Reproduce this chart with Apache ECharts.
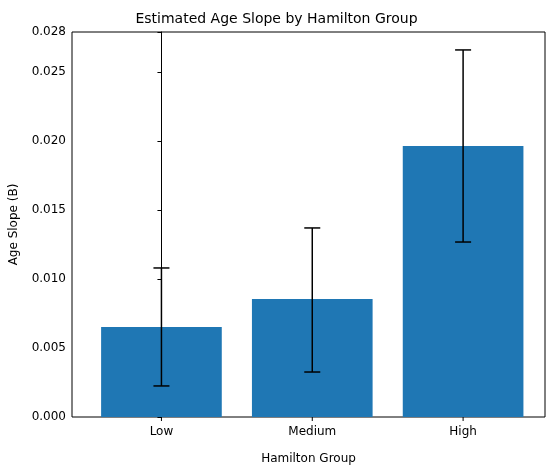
<!DOCTYPE html>
<html><head><meta charset="utf-8">
<script src="https://cdn.jsdelivr.net/npm/echarts@6/dist/echarts.min.js"></script>
<style>html,body{margin:0;padding:0;background:#fff}#c{width:553px;height:470px}</style>
</head><body><div id="c"></div>
<script>
const categories = ['Low', 'Medium', 'High'];
const slopes = [0.00652, 0.00855, 0.01964];
const errLow = [0.00225, 0.00326, 0.01268];
const errHigh = [0.0108, 0.0137, 0.0266];

const chart = echarts.init(document.getElementById('c'));
const font = 'DejaVu Sans';
chart.setOption({
  animation: false,
  title: {text: 'Estimated Age Slope by Hamilton Group', left: 'center', top: 7,
    textStyle: {fontFamily: font, fontSize: 14, fontWeight: 'normal', color: '#000'}},
  grid: {left: 71, right: 8, top: 32, bottom: 53, show: true, borderColor: '#000', borderWidth: 1},
  xAxis: {type: 'value', min: -0.593, max: 2.543, axisLabel: {show: false}, axisTick: {show: false},
    splitLine: {show: false}, axisLine: {show: false},
    name: 'Hamilton Group', nameLocation: 'middle', nameGap: 36,
    nameTextStyle: {fontFamily: font, fontSize: 12, color: '#000'}},
  yAxis: {type: 'value', min: 0, max: 0.0279, interval: 0.005,
    axisLine: {show: true, lineStyle: {color: '#000'}},
    axisTick: {show: true, length: 4, lineStyle: {color: '#000'}},
    splitLine: {show: false},
    axisLabel: {formatter: v => v.toFixed(3), fontFamily: font, fontSize: 12, color: '#000', margin: 6},
    name: 'Age Slope (B)', nameLocation: 'middle', nameGap: 52,
    nameTextStyle: {fontFamily: font, fontSize: 12, color: '#000'}},
  series: [{
    type: 'custom',
    data: slopes.map((v, i) => [i, v, errLow[i], errHigh[i]]),
    renderItem: function (params, api) {
      const i = api.value(0);
      const top = api.coord([i, api.value(1)]);
      const base = api.coord([i, 0]);
      const lo = api.coord([i, api.value(2)]);
      const hi = api.coord([i, api.value(3)]);
      const unit = api.size([1, 0])[0];
      const w = unit * 0.8;
      const cx = top[0];
      return {type: 'group', children: [
        {type: 'rect', shape: {x: cx - w / 2, y: top[1], width: w, height: base[1] - top[1]},
          style: {fill: '#1f77b4'}},
        {type: 'line', shape: {x1: cx, y1: lo[1], x2: cx, y2: hi[1]}, style: {stroke: '#000', lineWidth: 1.5}},
        {type: 'line', shape: {x1: cx - 8, y1: lo[1], x2: cx + 8, y2: lo[1]}, style: {stroke: '#000', lineWidth: 1.5}},
        {type: 'line', shape: {x1: cx - 8, y1: hi[1], x2: cx + 8, y2: hi[1]}, style: {stroke: '#000', lineWidth: 1.5}},
        {type: 'line', shape: {x1: cx, y1: base[1], x2: cx, y2: base[1] + 4}, style: {stroke: '#000', lineWidth: 1}},
        {type: 'text', style: {text: categories[i], x: cx, y: base[1] + 9, textAlign: 'center', textVerticalAlign: 'top',
          font: '12px "DejaVu Sans"', fill: '#000'}}
      ]};
    }
  }]
});
</script></body></html>
